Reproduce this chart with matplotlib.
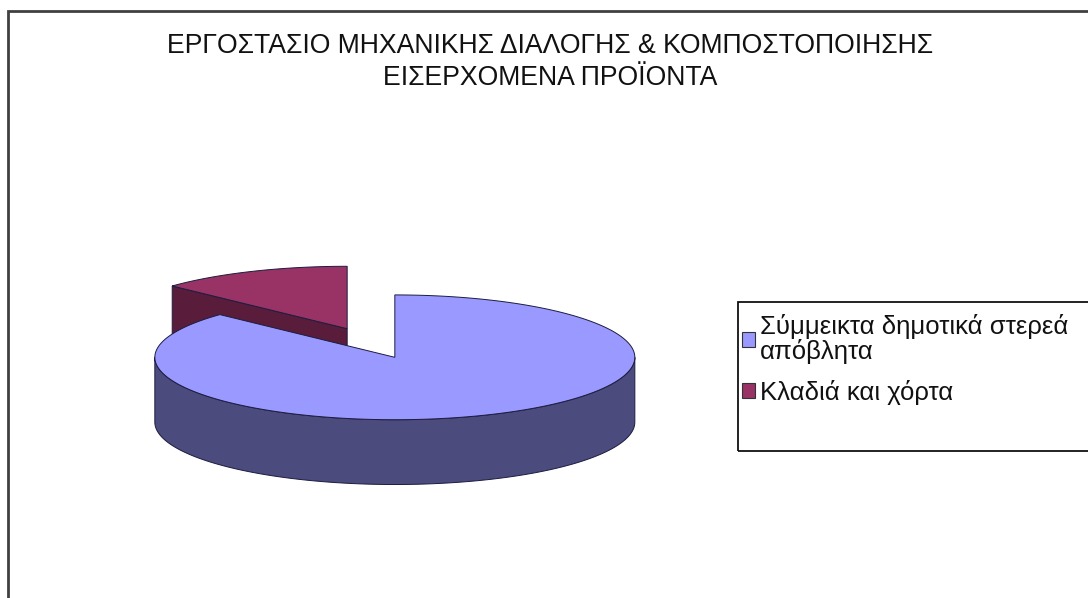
import numpy as np
import matplotlib.pyplot as plt
from matplotlib.patches import Polygon, Rectangle, Patch

plt.rcParams['font.family'] = ['Liberation Sans', 'DejaVu Sans']

title = 'ΕΡΓΟΣΤΑΣΙΟ ΜΗΧΑΝΙΚΗΣ ΔΙΑΛΟΓΗΣ & ΚΟΜΠΟΣΤΟΠΟΙΗΣΗΣ\nΕΙΣΕΡΧΟΜΕΝΑ ΠΡΟΪΟΝΤΑ'
labels = ['Σύμμεικτα δημοτικά στερεά\nαπόβλητα', 'Κλαδιά και χόρτα']
values = [87, 13]

top_colors = ['#9999ff', '#993366']
side_colors = ['#4b4b7d', '#591d3b']
edge = '#1c1c40'

# fake 3d pie: squashed ellipse + depth
squash = 0.26
depth = 0.27
explode = 0.25


def arc(cx, cy, a0, a1, dz=0.0, n=200):
    t = np.radians(np.linspace(a0, a1, n))
    return np.column_stack([cx + np.cos(t), cy + squash * np.sin(t) - dz])


fig = plt.figure(figsize=(10.88, 5.98), dpi=100)
ax = fig.add_axes([71 / 1088, 105 / 598, 600 / 1088, 300 / 598])
ax.set_xlim(-1.25, 1.25)
ax.set_ylim(-0.625, 0.625)
ax.axis('off')

fracs = np.array(values) / np.sum(values)
start = 90.0
slices = []
for i, f in enumerate(fracs):
    t1 = start
    t2 = start - f * 360
    start = t2
    mid = np.radians((t1 + t2) / 2)
    cx = explode * np.cos(mid)
    cy = explode * squash * np.sin(mid)
    slices.append((cy, i, cx, t1, t2))

# back slices first
for cy, i, cx, t1, t2 in sorted(slices, reverse=True):
    # radial cut faces facing the viewer
    for ang, vis in [(t1, np.cos(np.radians(t1)) < -1e-9), (t2, np.cos(np.radians(t2)) > 1e-9)]:
        if vis:
            r = np.radians(ang)
            ex, ey = cx + np.cos(r), cy + squash * np.sin(r)
            quad = [(cx, cy), (ex, ey), (ex, ey - depth), (cx, cy - depth)]
            ax.add_patch(Polygon(quad, closed=True, fc=side_colors[i], ec=edge, lw=0.7))
    # outer curved side, front half only
    for k in (-360, 0, 360):
        lo = max(t2, -180 + k)
        hi = min(t1, 0 + k)
        if lo < hi:
            top = arc(cx, cy, lo, hi)
            bot = arc(cx, cy, hi, lo, dz=depth)
            ax.add_patch(Polygon(np.vstack([top, bot]), closed=True,
                                 fc=side_colors[i], ec=edge, lw=0.7))
    # top face
    pts = np.vstack([[cx, cy], arc(cx, cy, t2, t1)])
    ax.add_patch(Polygon(pts, closed=True, fc=top_colors[i], ec=edge, lw=0.7))

fig.text(550 / 1088, 1 - 62 / 598, title, ha='center', va='center',
         fontsize=19.2, linespacing=1.3, color='#111111')

# chart area border (cut by image edges)
fig.patches.append(Rectangle((8 / 1088, -0.1), 1.2, 1.1 - 11 / 598, transform=fig.transFigure,
                             fill=False, ec='#404040', lw=2))
# legend box
fig.patches.append(Rectangle((738 / 1088, 1 - 451 / 598), 0.4, 149 / 598, transform=fig.transFigure,
                             fill=False, ec='#111111', lw=1.3))

handles = [Patch(fc=c, ec='#333333', lw=0.8) for c in top_colors]
leg = fig.legend(handles, labels, loc='upper left', bbox_to_anchor=(742 / 1088, 1 - 314 / 598),
                 frameon=False, fontsize=18.5, handlelength=0.5, handleheight=0.5,
                 handletextpad=0.2, labelspacing=0.6, borderpad=0, borderaxespad=0)
for t in leg.get_texts():
    t.set_linespacing(1.02)
    t.set_color('#111111')

fig.savefig('out.png', dpi=100, facecolor='white')
